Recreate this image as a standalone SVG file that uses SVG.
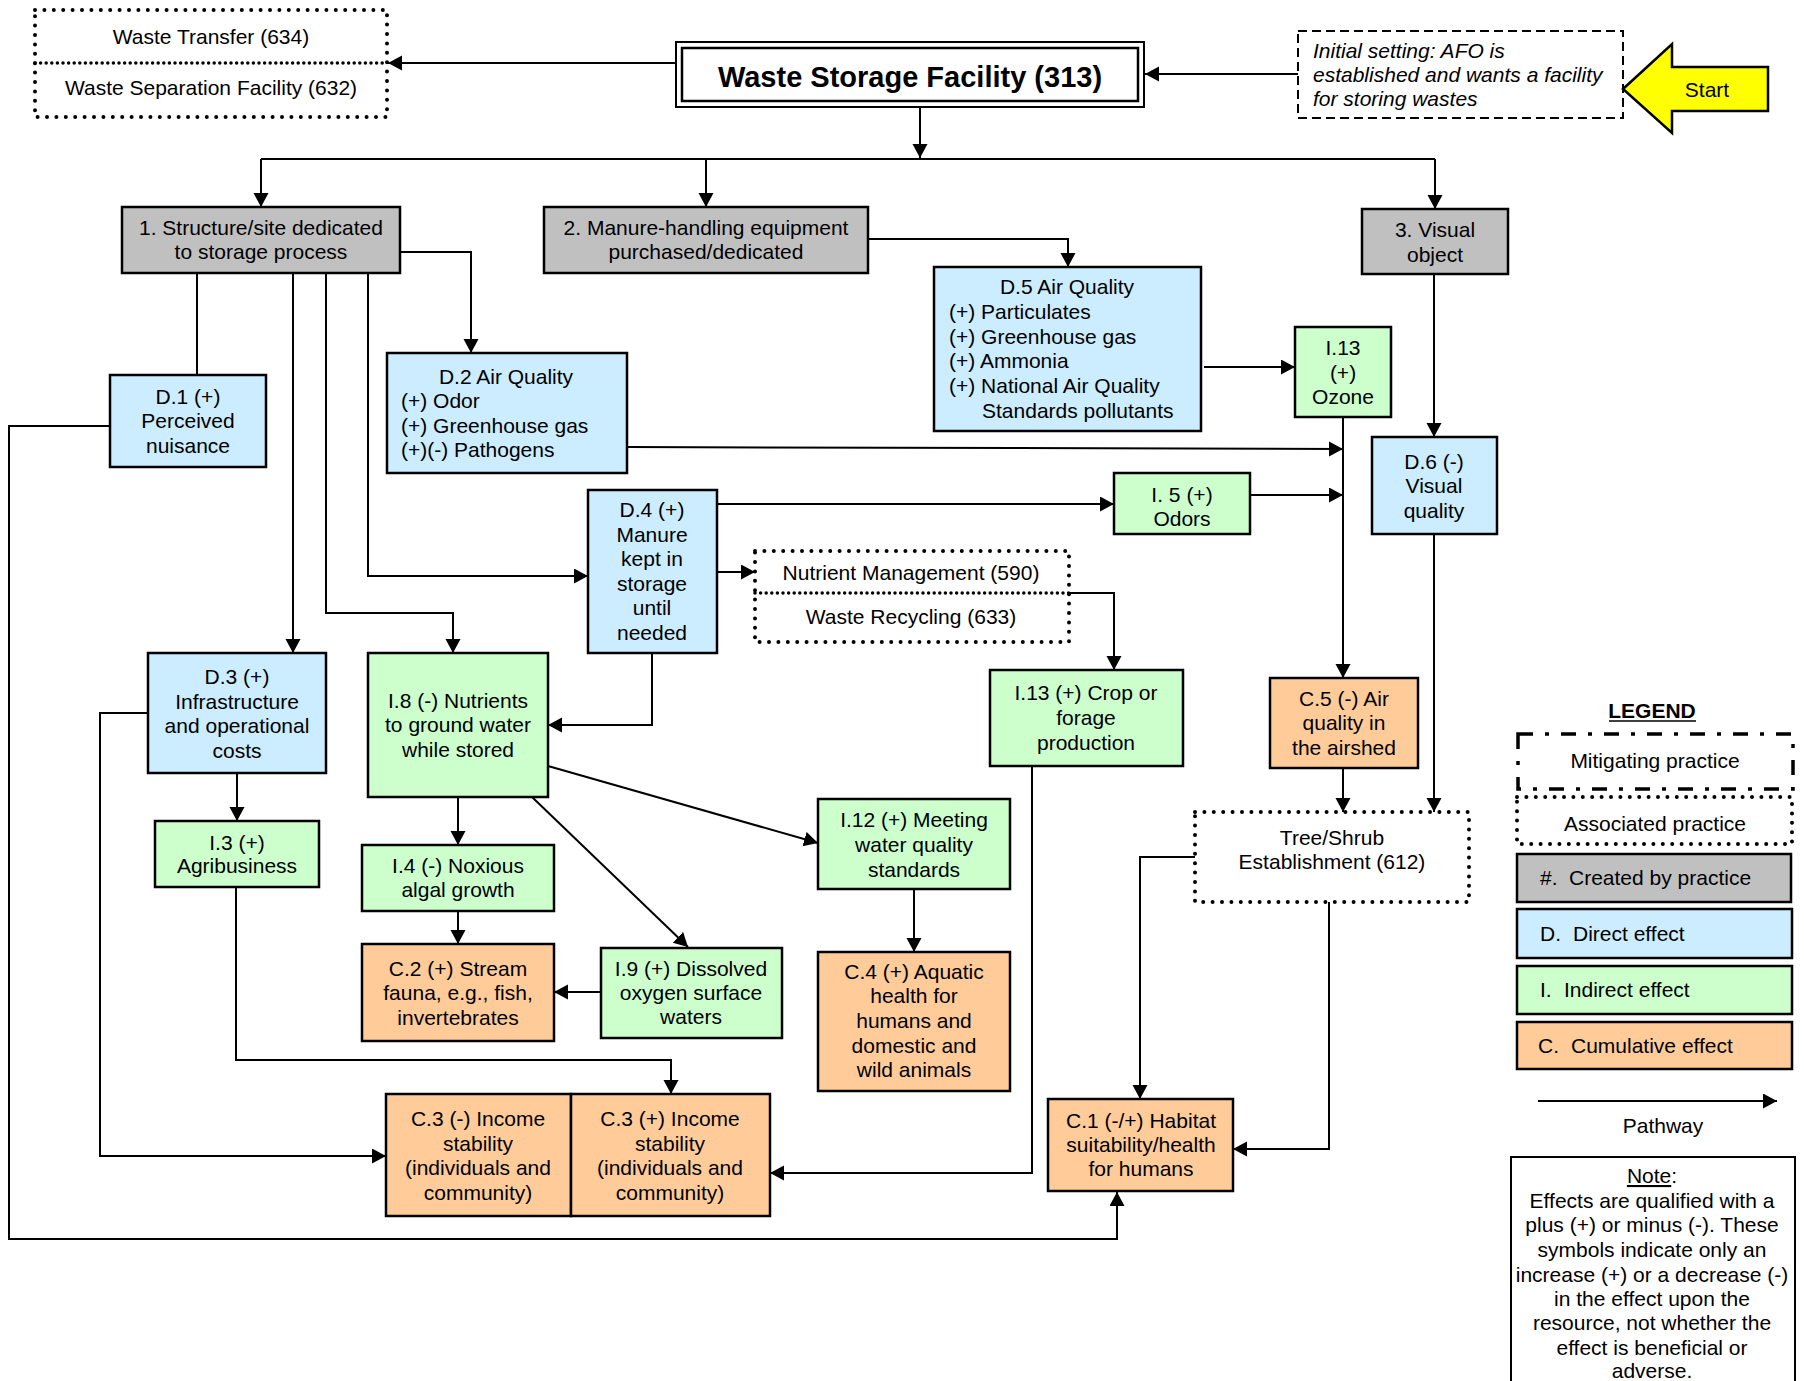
<svg xmlns="http://www.w3.org/2000/svg" width="1804" height="1381" viewBox="0 0 1804 1381">
<style>
  .t{font-family:"Liberation Sans",Arial,Helvetica,sans-serif;font-size:21px;fill:#000}
  .m{text-anchor:middle}
  .it{font-style:italic}
  .bx{stroke:#000;stroke-width:2.5}
  .gy{fill:#C0C0C0}
  .bl{fill:#CCECFF}
  .gn{fill:#CCFFCC}
  .or{fill:#FFCC99}
  .dot{fill:none;stroke:#000;stroke-width:4;stroke-dasharray:0 9.4;stroke-linecap:round}
  .dotf{fill:none;stroke:#000;stroke-width:3.5;stroke-dasharray:0 5.6;stroke-linecap:round}
  .ln{fill:none;stroke:#000;stroke-width:2}
  .arr{marker-end:url(#ah)}
</style>
<defs>
  <marker id="ah" markerUnits="userSpaceOnUse" markerWidth="16" markerHeight="16" refX="14" refY="7.5" orient="auto">
    <path d="M0,0 L14,7.5 L0,15 z" fill="#000"/>
  </marker>
</defs>
<rect width="1804" height="1381" fill="#fff"/>

<!-- connectors -->
<g id="connectors">
  <polyline class="ln arr" points="676,63 388,63"/>
  <polyline class="ln arr" points="1298,74 1145,74"/>
  <polyline class="ln arr" points="920,107 920,158"/>
  <polyline class="ln" points="261,159 1435,159"/>
  <polyline class="ln arr" points="261,159 261,207"/>
  <polyline class="ln arr" points="706,159 706,207"/>
  <polyline class="ln arr" points="1435,159 1435,209"/>
  <polyline class="ln arr" points="400,252 471,252 471,353"/>
  <polyline class="ln" points="197,273 197,375"/>
  <polyline class="ln arr" points="293,273 293,653"/>
  <polyline class="ln arr" points="326,273 326,613 453,613 453,653"/>
  <polyline class="ln arr" points="368,273 368,576 588,576"/>
  <polyline class="ln arr" points="868,239 1068,239 1068,267"/>
  <polyline class="ln arr" points="1204,367 1295,367"/>
  <polyline class="ln arr" points="1434,274 1434,437"/>
  <polyline class="ln arr" points="1343,417 1343,678"/>
  <polyline class="ln arr" points="627,447 1343,449"/>
  <polyline class="ln arr" points="717,504 1114,504"/>
  <polyline class="ln arr" points="1250,495 1343,495"/>
  <polyline class="ln arr" points="717,572 755,572"/>
  <polyline class="ln arr" points="1069,593 1114,593 1114,670"/>
  <polyline class="ln arr" points="652,653 652,725 548,725"/>
  <polyline class="ln arr" points="110,426 9,426 9,1239 1117,1239 1117,1192"/>
  <polyline class="ln arr" points="148,713 100,713 100,1156 386,1156"/>
  <polyline class="ln arr" points="237,773 237,821"/>
  <polyline class="ln arr" points="236,887 236,1060 671,1060 671,1094"/>
  <polyline class="ln arr" points="458,797 458,845"/>
  <polyline class="ln arr" points="458,911 458,944"/>
  <polyline class="ln arr" points="548,766 818,843"/>
  <polyline class="ln arr" points="532,797 688,947"/>
  <polyline class="ln arr" points="601,992 554,992"/>
  <polyline class="ln arr" points="914,889 914,952"/>
  <polyline class="ln arr" points="1032,766 1032,1173 770,1173"/>
  <polyline class="ln arr" points="1343,768 1343,812"/>
  <polyline class="ln arr" points="1434,534 1434,812"/>
  <polyline class="ln arr" points="1195,857 1140,857 1140,1099"/>
  <polyline class="ln arr" points="1329,902 1329,1149 1233,1149"/>
</g>

<!-- associated practices: transfer / separation -->
<g id="waste-transfer-separation">
  <rect class="dot" x="35" y="10" width="352" height="107"/>
  <line class="dotf" x1="35" y1="63" x2="387" y2="63"/>
  <text class="t m" x="211" y="44">Waste Transfer (634)</text>
  <text class="t m" x="211" y="95">Waste Separation Facility (632)</text>
</g>

<g id="waste-storage-facility">
  <rect x="676" y="42" width="468" height="65" fill="#fff" stroke="#000" stroke-width="2"/>
  <rect x="682" y="48" width="456" height="53" fill="none" stroke="#000" stroke-width="2.5"/>
  <text class="t m" x="910" y="87" style="font-size:29px;font-weight:bold">Waste Storage Facility (313)</text>
</g>

<g id="initial-setting">
  <rect x="1298" y="31" width="325" height="87" fill="#fff" stroke="#000" stroke-width="2" stroke-dasharray="9 5"/>
  <text class="t it" x="1313" y="58">Initial setting: AFO is</text>
  <text class="t it" x="1313" y="82">established and wants a facility</text>
  <text class="t it" x="1313" y="106">for storing wastes</text>
</g>

<g id="start">
  <polygon points="1623,89 1672,44 1672,67 1768,67 1768,111 1672,111 1672,133" fill="#FFFF00" stroke="#000" stroke-width="2.5"/>
  <text class="t m" x="1707" y="97">Start</text>
</g>

<g id="s1">
  <rect class="bx gy" x="122" y="207" width="278" height="66"/>
  <text class="t m" x="261" y="235">1. Structure/site dedicated</text>
  <text class="t m" x="261" y="259">to storage process</text>
</g>

<g id="s2">
  <rect class="bx gy" x="544" y="207" width="324" height="66"/>
  <text class="t m" x="706" y="235">2. Manure-handling equipment</text>
  <text class="t m" x="706" y="259">purchased/dedicated</text>
</g>

<g id="s3">
  <rect class="bx gy" x="1362" y="209" width="146" height="65"/>
  <text class="t m" x="1435" y="237">3. Visual</text>
  <text class="t m" x="1435" y="262">object</text>
</g>

<g id="d5">
  <rect class="bx bl" x="934" y="267" width="267" height="164"/>
  <text class="t m" x="1067" y="294">D.5 Air Quality</text>
  <text class="t" x="949" y="319">(+) Particulates</text>
  <text class="t" x="949" y="344">(+) Greenhouse gas</text>
  <text class="t" x="949" y="368">(+) Ammonia</text>
  <text class="t" x="949" y="393">(+) National Air Quality</text>
  <text class="t" x="982" y="418">Standards pollutants</text>
</g>

<g id="i13-ozone">
  <rect class="bx gn" x="1295" y="327" width="96" height="90"/>
  <text class="t m" x="1343" y="355">I.13</text>
  <text class="t m" x="1343" y="380">(+)</text>
  <text class="t m" x="1343" y="404">Ozone</text>
</g>

<g id="d2">
  <rect class="bx bl" x="387" y="353" width="240" height="120"/>
  <text class="t m" x="506" y="384">D.2 Air Quality</text>
  <text class="t" x="401" y="408">(+) Odor</text>
  <text class="t" x="401" y="433">(+) Greenhouse gas</text>
  <text class="t" x="401" y="457">(+)(-) Pathogens</text>
</g>

<g id="d1">
  <rect class="bx bl" x="110" y="375" width="156" height="92"/>
  <text class="t m" x="188" y="404">D.1 (+)</text>
  <text class="t m" x="188" y="428">Perceived</text>
  <text class="t m" x="188" y="453">nuisance</text>
</g>

<g id="d4">
  <rect class="bx bl" x="588" y="490" width="129" height="163"/>
  <text class="t m" x="652" y="517">D.4 (+)</text>
  <text class="t m" x="652" y="542">Manure</text>
  <text class="t m" x="652" y="566">kept in</text>
  <text class="t m" x="652" y="591">storage</text>
  <text class="t m" x="652" y="615">until</text>
  <text class="t m" x="652" y="640">needed</text>
</g>

<g id="i5">
  <rect class="bx gn" x="1114" y="473" width="136" height="61"/>
  <text class="t m" x="1182" y="502">I. 5 (+)</text>
  <text class="t m" x="1182" y="526">Odors</text>
</g>

<g id="nutrient-recycling">
  <rect class="dot" x="755" y="551" width="314" height="91"/>
  <line class="dotf" x1="755" y1="593" x2="1069" y2="593"/>
  <text class="t m" x="911" y="580">Nutrient Management (590)</text>
  <text class="t m" x="911" y="624">Waste Recycling (633)</text>
</g>

<g id="i13-crop">
  <rect class="bx gn" x="990" y="670" width="193" height="96"/>
  <text class="t m" x="1086" y="700">I.13 (+) Crop or</text>
  <text class="t m" x="1086" y="725">forage</text>
  <text class="t m" x="1086" y="750">production</text>
</g>

<g id="d3">
  <rect class="bx bl" x="148" y="653" width="178" height="120"/>
  <text class="t m" x="237" y="684">D.3 (+)</text>
  <text class="t m" x="237" y="709">Infrastructure</text>
  <text class="t m" x="237" y="733">and operational</text>
  <text class="t m" x="237" y="758">costs</text>
</g>

<g id="i8">
  <rect class="bx gn" x="368" y="653" width="180" height="144"/>
  <text class="t m" x="458" y="708">I.8 (-) Nutrients</text>
  <text class="t m" x="458" y="732">to ground water</text>
  <text class="t m" x="458" y="757">while stored</text>
</g>

<g id="i3">
  <rect class="bx gn" x="155" y="821" width="164" height="66"/>
  <text class="t m" x="237" y="850">I.3 (+)</text>
  <text class="t m" x="237" y="873">Agribusiness</text>
</g>

<g id="i4">
  <rect class="bx gn" x="362" y="845" width="192" height="66"/>
  <text class="t m" x="458" y="873">I.4 (-) Noxious</text>
  <text class="t m" x="458" y="897">algal growth</text>
</g>

<g id="c2">
  <rect class="bx or" x="362" y="944" width="192" height="97"/>
  <text class="t m" x="458" y="976">C.2 (+) Stream</text>
  <text class="t m" x="458" y="1000">fauna, e.g., fish,</text>
  <text class="t m" x="458" y="1025">invertebrates</text>
</g>

<g id="i9">
  <rect class="bx gn" x="601" y="948" width="181" height="90"/>
  <text class="t m" x="691" y="976">I.9 (+) Dissolved</text>
  <text class="t m" x="691" y="1000">oxygen surface</text>
  <text class="t m" x="691" y="1024">waters</text>
</g>

<g id="i12">
  <rect class="bx gn" x="818" y="799" width="192" height="90"/>
  <text class="t m" x="914" y="827">I.12 (+) Meeting</text>
  <text class="t m" x="914" y="852">water quality</text>
  <text class="t m" x="914" y="877">standards</text>
</g>

<g id="c4">
  <rect class="bx or" x="818" y="952" width="192" height="139"/>
  <text class="t m" x="914" y="979">C.4 (+) Aquatic</text>
  <text class="t m" x="914" y="1003">health for</text>
  <text class="t m" x="914" y="1028">humans and</text>
  <text class="t m" x="914" y="1053">domestic and</text>
  <text class="t m" x="914" y="1077">wild animals</text>
</g>

<g id="c5">
  <rect class="bx or" x="1270" y="678" width="148" height="90"/>
  <text class="t m" x="1344" y="706">C.5 (-) Air</text>
  <text class="t m" x="1344" y="730">quality in</text>
  <text class="t m" x="1344" y="755">the airshed</text>
</g>

<g id="d6">
  <rect class="bx bl" x="1372" y="437" width="125" height="97"/>
  <text class="t m" x="1434" y="469">D.6 (-)</text>
  <text class="t m" x="1434" y="493">Visual</text>
  <text class="t m" x="1434" y="518">quality</text>
</g>

<g id="tree-shrub">
  <rect class="dot" x="1195" y="812" width="274" height="90"/>
  <text class="t m" x="1332" y="845">Tree/Shrub</text>
  <text class="t m" x="1332" y="869">Establishment (612)</text>
</g>

<g id="c1">
  <rect class="bx or" x="1048" y="1099" width="185" height="92"/>
  <text class="t m" x="1141" y="1128">C.1 (-/+) Habitat</text>
  <text class="t m" x="1141" y="1152">suitability/health</text>
  <text class="t m" x="1141" y="1176">for humans</text>
</g>

<g id="c3-minus">
  <rect class="bx or" x="386" y="1094" width="185" height="122"/>
  <text class="t m" x="478" y="1126">C.3 (-) Income</text>
  <text class="t m" x="478" y="1151">stability</text>
  <text class="t m" x="478" y="1175">(individuals and</text>
  <text class="t m" x="478" y="1200">community)</text>
</g>

<g id="c3-plus">
  <rect class="bx or" x="571" y="1094" width="199" height="122"/>
  <text class="t m" x="670" y="1126">C.3 (+) Income</text>
  <text class="t m" x="670" y="1151">stability</text>
  <text class="t m" x="670" y="1175">(individuals and</text>
  <text class="t m" x="670" y="1200">community)</text>
</g>

<!-- legend -->
<g id="legend">
  <text class="t m" x="1652" y="718" style="font-weight:bold">LEGEND</text>
  <line x1="1609" y1="721" x2="1696" y2="721" stroke="#000" stroke-width="1.5"/>
  <rect x="1518" y="734" width="275" height="55" fill="none" stroke="#000" stroke-width="3.5" stroke-dasharray="15 12 4 12"/>
  <text class="t m" x="1655" y="768">Mitigating practice</text>
  <rect class="dot" x="1517" y="797" width="275" height="47"/>
  <text class="t m" x="1655" y="831">Associated practice</text>
  <rect class="bx gy" x="1517" y="854" width="274" height="48"/>
  <text class="t" y="885"><tspan x="1540">#.</tspan><tspan x="1569">Created by practice</tspan></text>
  <rect class="bx bl" x="1517" y="909" width="275" height="49"/>
  <text class="t" y="941"><tspan x="1540">D.</tspan><tspan x="1573">Direct effect</tspan></text>
  <rect class="bx gn" x="1517" y="966" width="275" height="48"/>
  <text class="t" y="997"><tspan x="1540">I.</tspan><tspan x="1564">Indirect effect</tspan></text>
  <rect class="bx or" x="1517" y="1022" width="275" height="47"/>
  <text class="t" y="1053"><tspan x="1538">C.</tspan><tspan x="1571">Cumulative effect</tspan></text>
  <line class="ln arr" x1="1538" y1="1101" x2="1777" y2="1101"/>
  <text class="t m" x="1663" y="1133">Pathway</text>
  <rect x="1511" y="1157" width="284" height="250" fill="#fff" stroke="#000" stroke-width="2"/>
  <text class="t m" x="1652" y="1183"><tspan text-decoration="underline">Note</tspan>:</text>
  <text class="t m" x="1652" y="1208">Effects are qualified with a</text>
  <text class="t m" x="1652" y="1232">plus (+) or minus (-). These</text>
  <text class="t m" x="1652" y="1257">symbols indicate only an</text>
  <text class="t m" x="1652" y="1282">increase (+) or a decrease (-)</text>
  <text class="t m" x="1652" y="1306">in the effect upon the</text>
  <text class="t m" x="1652" y="1330">resource, not whether the</text>
  <text class="t m" x="1652" y="1355">effect is beneficial or</text>
  <text class="t m" x="1652" y="1378">adverse.</text>
</g>
</svg>
